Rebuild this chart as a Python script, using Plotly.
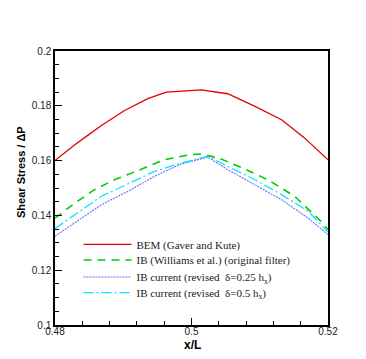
import plotly.graph_objects as go

# BEM (Gaver and Kute)
bem_x = [0.48, 0.4829, 0.4848, 0.4868, 0.4902, 0.4936, 0.4963, 0.499, 0.5002,
         0.5014, 0.5053, 0.5093, 0.5132, 0.5166, 0.52]
bem_y = [0.160, 0.1658, 0.1692, 0.1728, 0.1783, 0.1826, 0.1850, 0.1853, 0.1857,
         0.1858, 0.1844, 0.1798, 0.1749, 0.1682, 0.1603]

# IB (Williams et al.) original filter
wil_x = [0.48, 0.4829, 0.4858, 0.4887, 0.4921, 0.496, 0.4999, 0.5014, 0.5039,
         0.5073, 0.5112, 0.5151, 0.519, 0.52]
wil_y = [0.139, 0.1445, 0.1494, 0.153, 0.1563, 0.1603, 0.1622, 0.1624, 0.161,
         0.1575, 0.153, 0.147, 0.1378, 0.1348]

# IB current, delta = 0.25 hx
ib25_x = [0.48, 0.4829, 0.4868, 0.4907, 0.4946, 0.4985, 0.5002, 0.5024, 0.5053,
          0.5093, 0.5132, 0.5171, 0.52]
ib25_y = [0.1324, 0.1372, 0.1439, 0.1488, 0.1543, 0.1588, 0.16, 0.1613, 0.1567,
          0.1512, 0.1457, 0.139, 0.133]

# IB current, delta = 0.5 hx
ib50_x = [0.48, 0.4829, 0.4868, 0.4907, 0.4946, 0.4985, 0.5002, 0.5024, 0.5053,
          0.5093, 0.5132, 0.5171, 0.52]
ib50_y = [0.1352, 0.1403, 0.147, 0.1515, 0.1561, 0.1591, 0.1603, 0.1616, 0.1579,
          0.153, 0.1476, 0.1415, 0.1339]

names = [
    "BEM (Gaver and Kute)",
    "IB (Williams et al.) (original filter)",
    "IB current (revised  δ=0.25 h<sub>x</sub>)",
    "IB current (revised  δ=0.5 h<sub>x</sub>)",
]

x_ticks = [0.48, 0.5, 0.52]
x_ticklabels = ["0.48", "0.5", "0.52"]
y_ticks = [0.1, 0.12, 0.14, 0.16, 0.18, 0.2]
y_ticklabels = ["0.1", "0.12", "0.14", "0.16", "0.18", "0.2"]

series = [
    (bem_x, bem_y, dict(color="#e00000", width=1.3, dash="solid")),
    (wil_x, wil_y, dict(color="#00cc00", width=1.6, dash="8px,6px")),
    (ib25_x, ib25_y, dict(color="#6a6aff", width=1.1, dash="2px,1px")),
    (ib50_x, ib50_y, dict(color="#00e6ff", width=1.3, dash="10px,3px,2px,3px")),
]

# one legend per entry so the row spacing can match the original
legend_ys = [0.2945, 0.2372, 0.1752, 0.1179]
legend_keys = ["legend", "legend2", "legend3", "legend4"]

fig = go.Figure()
for (xs, ys, line), name, key in zip(series, names, legend_keys):
    fig.add_trace(go.Scatter(x=xs, y=ys, mode="lines", name=name, line=line,
                             legend=key, showlegend=True))

axis_common = dict(
    showline=True, linecolor="black", linewidth=1.5, mirror=True,
    showgrid=False, zeroline=False,
    ticks="inside", ticklen=7, tickwidth=1.2, tickcolor="black",
    tickfont=dict(family="Liberation Sans, Arial", size=10, color="#222"),
)

fig.update_layout(
    width=366, height=359,
    margin=dict(l=47, r=46, t=43, b=42),
    plot_bgcolor="white", paper_bgcolor="white",
    showlegend=True,
    font=dict(family="Liberation Sans, Arial", color="black"),
    xaxis=dict(
        range=[0.48, 0.52], tickvals=x_ticks, ticktext=x_ticklabels,
        minor=dict(ticks="inside", dtick=0.004, tick0=0.48, ticklen=4,
                   tickcolor="black", tickwidth=1),
        ticklabelstandoff=-4,
        **axis_common,
    ),
    yaxis=dict(
        range=[0.1, 0.2], tickvals=y_ticks, ticktext=y_ticklabels,
        minor=dict(ticks="inside", dtick=0.005, tick0=0.1, ticklen=4,
                   tickcolor="black", tickwidth=1),
        **axis_common,
    ),
)

# axis titles sit a bit off-centre in the original, so place them as annotations
fig.add_annotation(text="<b>x/L</b>", xref="paper", yref="paper",
                   x=0.503, y=-0.073, showarrow=False,
                   xanchor="center", yanchor="middle",
                   font=dict(size=12, color="black"))
fig.add_annotation(text="<b>Shear Stress / ΔP</b>", xref="paper", yref="paper",
                   x=-0.125, y=0.558, showarrow=False, textangle=-90,
                   xanchor="center", yanchor="middle",
                   font=dict(size=11, color="black"))

for key, ly in zip(legend_keys, legend_ys):
    fig.update_layout({key: dict(
        x=0.086, y=ly, xanchor="left", yanchor="middle",
        bgcolor="rgba(0,0,0,0)", borderwidth=0, itemwidth=48,
        font=dict(family="Liberation Serif, Times New Roman", size=11,
                  color="#222"),
    )})

fig.write_html("out.html")
